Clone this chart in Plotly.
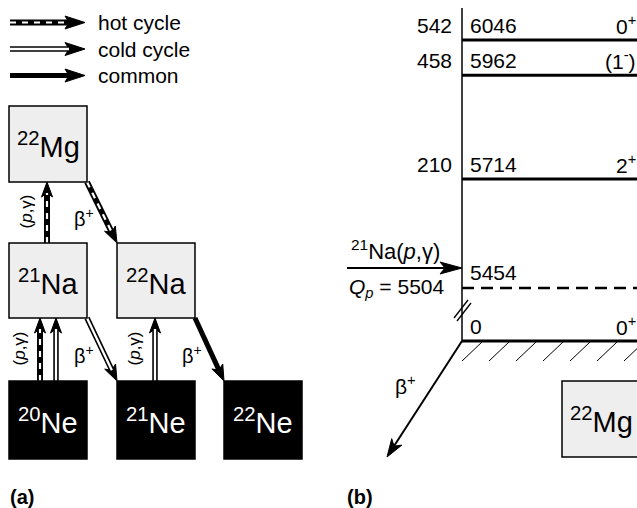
import math
import plotly.graph_objects as go

W, H = 637, 508
FONT = "Liberation Sans, Arial, Helvetica, sans-serif"

# ---------------- data ----------------
# (a) reaction network around the NeNa cycle
nuclide_mass = ["22", "21", "22", "20", "21", "22"]
nuclide_elem = ["Mg", "Na", "Na", "Ne", "Ne", "Ne"]
nuclide_stable = [False, False, False, True, True, True]

# links: (from, to, cycle, label)
link_from = ["21Na", "22Mg", "20Ne", "20Ne", "21Na", "21Ne", "22Na"]
link_to = ["22Mg", "22Na", "21Na", "21Na", "21Ne", "22Na", "22Ne"]
link_kind = ["hot", "hot", "hot", "cold", "cold", "cold", "common"]
link_label = ["(p,γ)", "β+", "(p,γ)", "", "β+", "(p,γ)", "β+"]

legend_kind = ["hot", "cold", "common"]
legend_text = ["hot cycle", "cold cycle", "common"]

# (b) levels of 22Mg above the 21Na + p threshold (keV)
level_ex = [6046, 5962, 5714]
level_er = [542, 458, 210]
level_jpi = ["0<sup>+</sup>", "(1<sup>-</sup>)", "2<sup>+</sup>"]
subthreshold_ex = 5454
q_p = 5504
ground_jpi = "0<sup>+</sup>"

# ---------------- layout helpers ----------------
# grid of boxes (column, row) for panel (a)
grid = {"22Mg": (0, 0), "21Na": (0, 1), "22Na": (1, 1),
        "20Ne": (0, 2), "21Ne": (1, 2), "22Ne": (2, 2)}
col_x0 = [9, 117, 224]
row_y = [(106, 182), (243, 318), (381, 459)]
BOX_W = 78


def box(name):
    c, r = grid[name]
    return col_x0[c], row_y[r][0], col_x0[c] + BOX_W, row_y[r][1]


shapes = []
annotations = []


def line(x0, y0, x1, y1, color="black", width=2, dash=None, yref="y"):
    d = dict(type="line", x0=x0, y0=y0, x1=x1, y1=y1, xref="x", yref=yref,
             line=dict(color=color, width=width))
    if dash:
        d["line"]["dash"] = dash
    shapes.append(d)


def arrow_head(x0, y0, x1, y1, L=16, w=6, notch=4):
    d = math.hypot(x1 - x0, y1 - y0)
    ux, uy = (x1 - x0) / d, (y1 - y0) / d
    px, py = -uy, ux
    bx, by = x1 - ux * L, y1 - uy * L
    nx, ny = x1 - ux * (L - notch), y1 - uy * (L - notch)
    path = (f"M {x1},{y1} L {bx + px * w},{by + py * w} L {nx},{ny} "
            f"L {bx - px * w},{by - py * w} Z")
    shapes.append(dict(type="path", path=path, xref="x", yref="y",
                       fillcolor="black", line=dict(color="black", width=1)))
    return nx, ny


def styled_arrow(x0, y0, x1, y1, kind, L=16, w=6):
    nx, ny = arrow_head(x0, y0, x1, y1, L=L, w=w)
    if kind == "hot":
        line(x0, y0, nx, ny, width=6)
        line(x0, y0, nx, ny, color="white", width=2.2, dash="6px,6px")
    elif kind == "cold":
        line(x0, y0, nx, ny, width=5.5)
        line(x0, y0, nx, ny, color="white", width=2.3)
    else:
        line(x0, y0, nx, ny, width=5)


def text(x, y, s, size=21, color="black", xanchor="center", yanchor="middle",
         angle=0, yref="y", yshift=0):
    annotations.append(dict(x=x, y=y, xref="x", yref=yref, text=s,
                            showarrow=False, xanchor=xanchor, yanchor=yanchor,
                            textangle=angle, yshift=yshift, borderpad=0,
                            font=dict(family=FONT, size=size, color=color)))


def fmt_label(s):
    s = s.replace("p,", "<i>p</i>,")
    return s.replace("β+", "β<sup>+</sup>")


# ---------------- legend ----------------
for i, (k, t) in enumerate(zip(legend_kind, legend_text)):
    y = 22.5 + i * 26.5
    styled_arrow(10, y, 85, y, k, L=20, w=6.5)
    text(97, y, t, size=21, xanchor="left")

# ---------------- panel (a) arrows ----------------
pair_count = {}
for f, t in zip(link_from, link_to):
    pair_count[(f, t)] = pair_count.get((f, t), 0) + 1
pair_seen = {}

for f, t, k, lab in zip(link_from, link_to, link_kind, link_label):
    fx0, fy0, fx1, fy1 = box(f)
    tx0, ty0, tx1, ty1 = box(t)
    if grid[f][0] == grid[t][0]:
        # capture: straight up from the lower box to the upper one
        n = pair_count[(f, t)]
        idx = pair_seen.get((f, t), 0)
        pair_seen[(f, t)] = idx + 1
        cx = (fx0 + fx1) / 2
        x = cx - 1 if n == 1 else cx - 8 + 16 * idx
        styled_arrow(x, fy0, x, ty1, k, L=15, w=5.5)
        if lab:
            text(x - 21, (fy0 + ty1) / 2 - 1, fmt_label(lab), size=17, angle=-90)
    else:
        # decay: from the lower-right corner down to the next box
        styled_arrow(fx1, fy1, tx0, ty0, k, L=16, w=6)
        mx, my = (fx1 + tx0) / 2, (fy1 + ty0) / 2
        text(mx - 18, my + 5, fmt_label(lab), size=20)

# ---------------- panel (a) boxes ----------------
for m, e, st in zip(nuclide_mass, nuclide_elem, nuclide_stable):
    x0, y0, x1, y1 = box(m + e)
    shapes.append(dict(type="rect", x0=x0, y0=y0, x1=x1, y1=y1, xref="x", yref="y",
                       fillcolor="black" if st else "#eeeeee",
                       line=dict(color="black", width=1.5)))
    text((x0 + x1) / 2, (y0 + y1) / 2 + 1, f"<sup>{m}</sup>{e}", size=29,
         color="white" if st else "black")

text(9, 497, "<b>(a)</b>", size=20, xanchor="left")
text(346, 497, "<b>(b)</b>", size=20, xanchor="left")

# ---------------- panel (b) level scheme ----------------
AX_X = 462
X_END = 660
GROUND_Y = 341
TOP_PIX = 40                       # pixel height of the highest level
PX_PER_KEV = 248 / 592
e_top = level_ex[0] + TOP_PIX / PX_PER_KEV
e_bot = level_ex[0] - (H - TOP_PIX) / PX_PER_KEV

traces = []
for ex, er, jp in zip(level_ex, level_er, level_jpi):
    traces.append(go.Scatter(x=[AX_X, X_END], y=[ex, ex], yaxis="y2", mode="lines",
                             line=dict(color="black", width=3), hoverinfo="skip",
                             showlegend=False))
    text(AX_X - 9, ex, str(er), xanchor="right", yref="y2", yshift=15)
    text(AX_X + 7, ex, str(ex), xanchor="left", yref="y2", yshift=15)
    text(637, ex, jp, xanchor="right", yref="y2", yshift=15)

traces.append(go.Scatter(x=[AX_X, X_END], y=[subthreshold_ex] * 2, yaxis="y2",
                         mode="lines", line=dict(color="black", width=2.5, dash="12px,7px"),
                         hoverinfo="skip", showlegend=False))
text(AX_X + 7, subthreshold_ex, str(subthreshold_ex), xanchor="left", yref="y2", yshift=16)

# entrance channel arrow at the proton threshold
q_y = 268
arrow_head(347, q_y, AX_X, q_y, L=22, w=6, notch=5)
line(347, q_y, AX_X - 18, q_y, width=2)
text(395, 250, "<sup>21</sup>Na(<i>p</i>,γ)", size=22)
text(396, 288, f"<i>Q</i><sub><i>p</i></sub> = {q_p}", size=21)

# vertical energy axis with break
line(AX_X, 8, AX_X, GROUND_Y, width=1.5)
line(454, 318, 468, 300, width=1.3)
line(457, 321, 471, 303, width=1.3)

# ground state and hatching
line(AX_X, GROUND_Y, X_END, GROUND_Y, width=3)
text(AX_X + 7, GROUND_Y, "0", xanchor="left", yshift=15)
text(637, GROUND_Y, ground_jpi, xanchor="right", yshift=15)
hx = AX_X
while hx < W + 20:
    line(hx, 361, hx + 20, 342, width=1)
    hx += 27

# beta decay out of the ground state
nx, ny = arrow_head(AX_X, GROUND_Y, 387, 457, L=18, w=6, notch=5)
line(AX_X, GROUND_Y, nx, ny, width=2)
text(405, 385, "β<sup>+</sup>", size=21)

shapes.append(dict(type="rect", x0=562, y0=381, x1=640, y1=457, xref="x", yref="y",
                   fillcolor="#eeeeee", line=dict(color="black", width=1.5)))
text(601, 420, "<sup>22</sup>Mg", size=29)

# anchor trace for the pixel axes
traces.append(go.Scatter(x=[0, W], y=[0, H], mode="markers", marker=dict(opacity=0),
                         hoverinfo="skip", showlegend=False))

fig = go.Figure(data=traces)
fig.update_layout(
    width=W, height=H, margin=dict(l=0, r=0, t=0, b=0),
    paper_bgcolor="white", plot_bgcolor="white",
    font=dict(family=FONT, size=21, color="black"),
    xaxis=dict(range=[0, W], visible=False, fixedrange=True),
    yaxis=dict(range=[H, 0], visible=False, fixedrange=True),
    yaxis2=dict(range=[e_bot, e_top], overlaying="y", visible=False, fixedrange=True),
    shapes=shapes, annotations=annotations, showlegend=False,
)
fig.write_html("out.html", config={"displayModeBar": False})
